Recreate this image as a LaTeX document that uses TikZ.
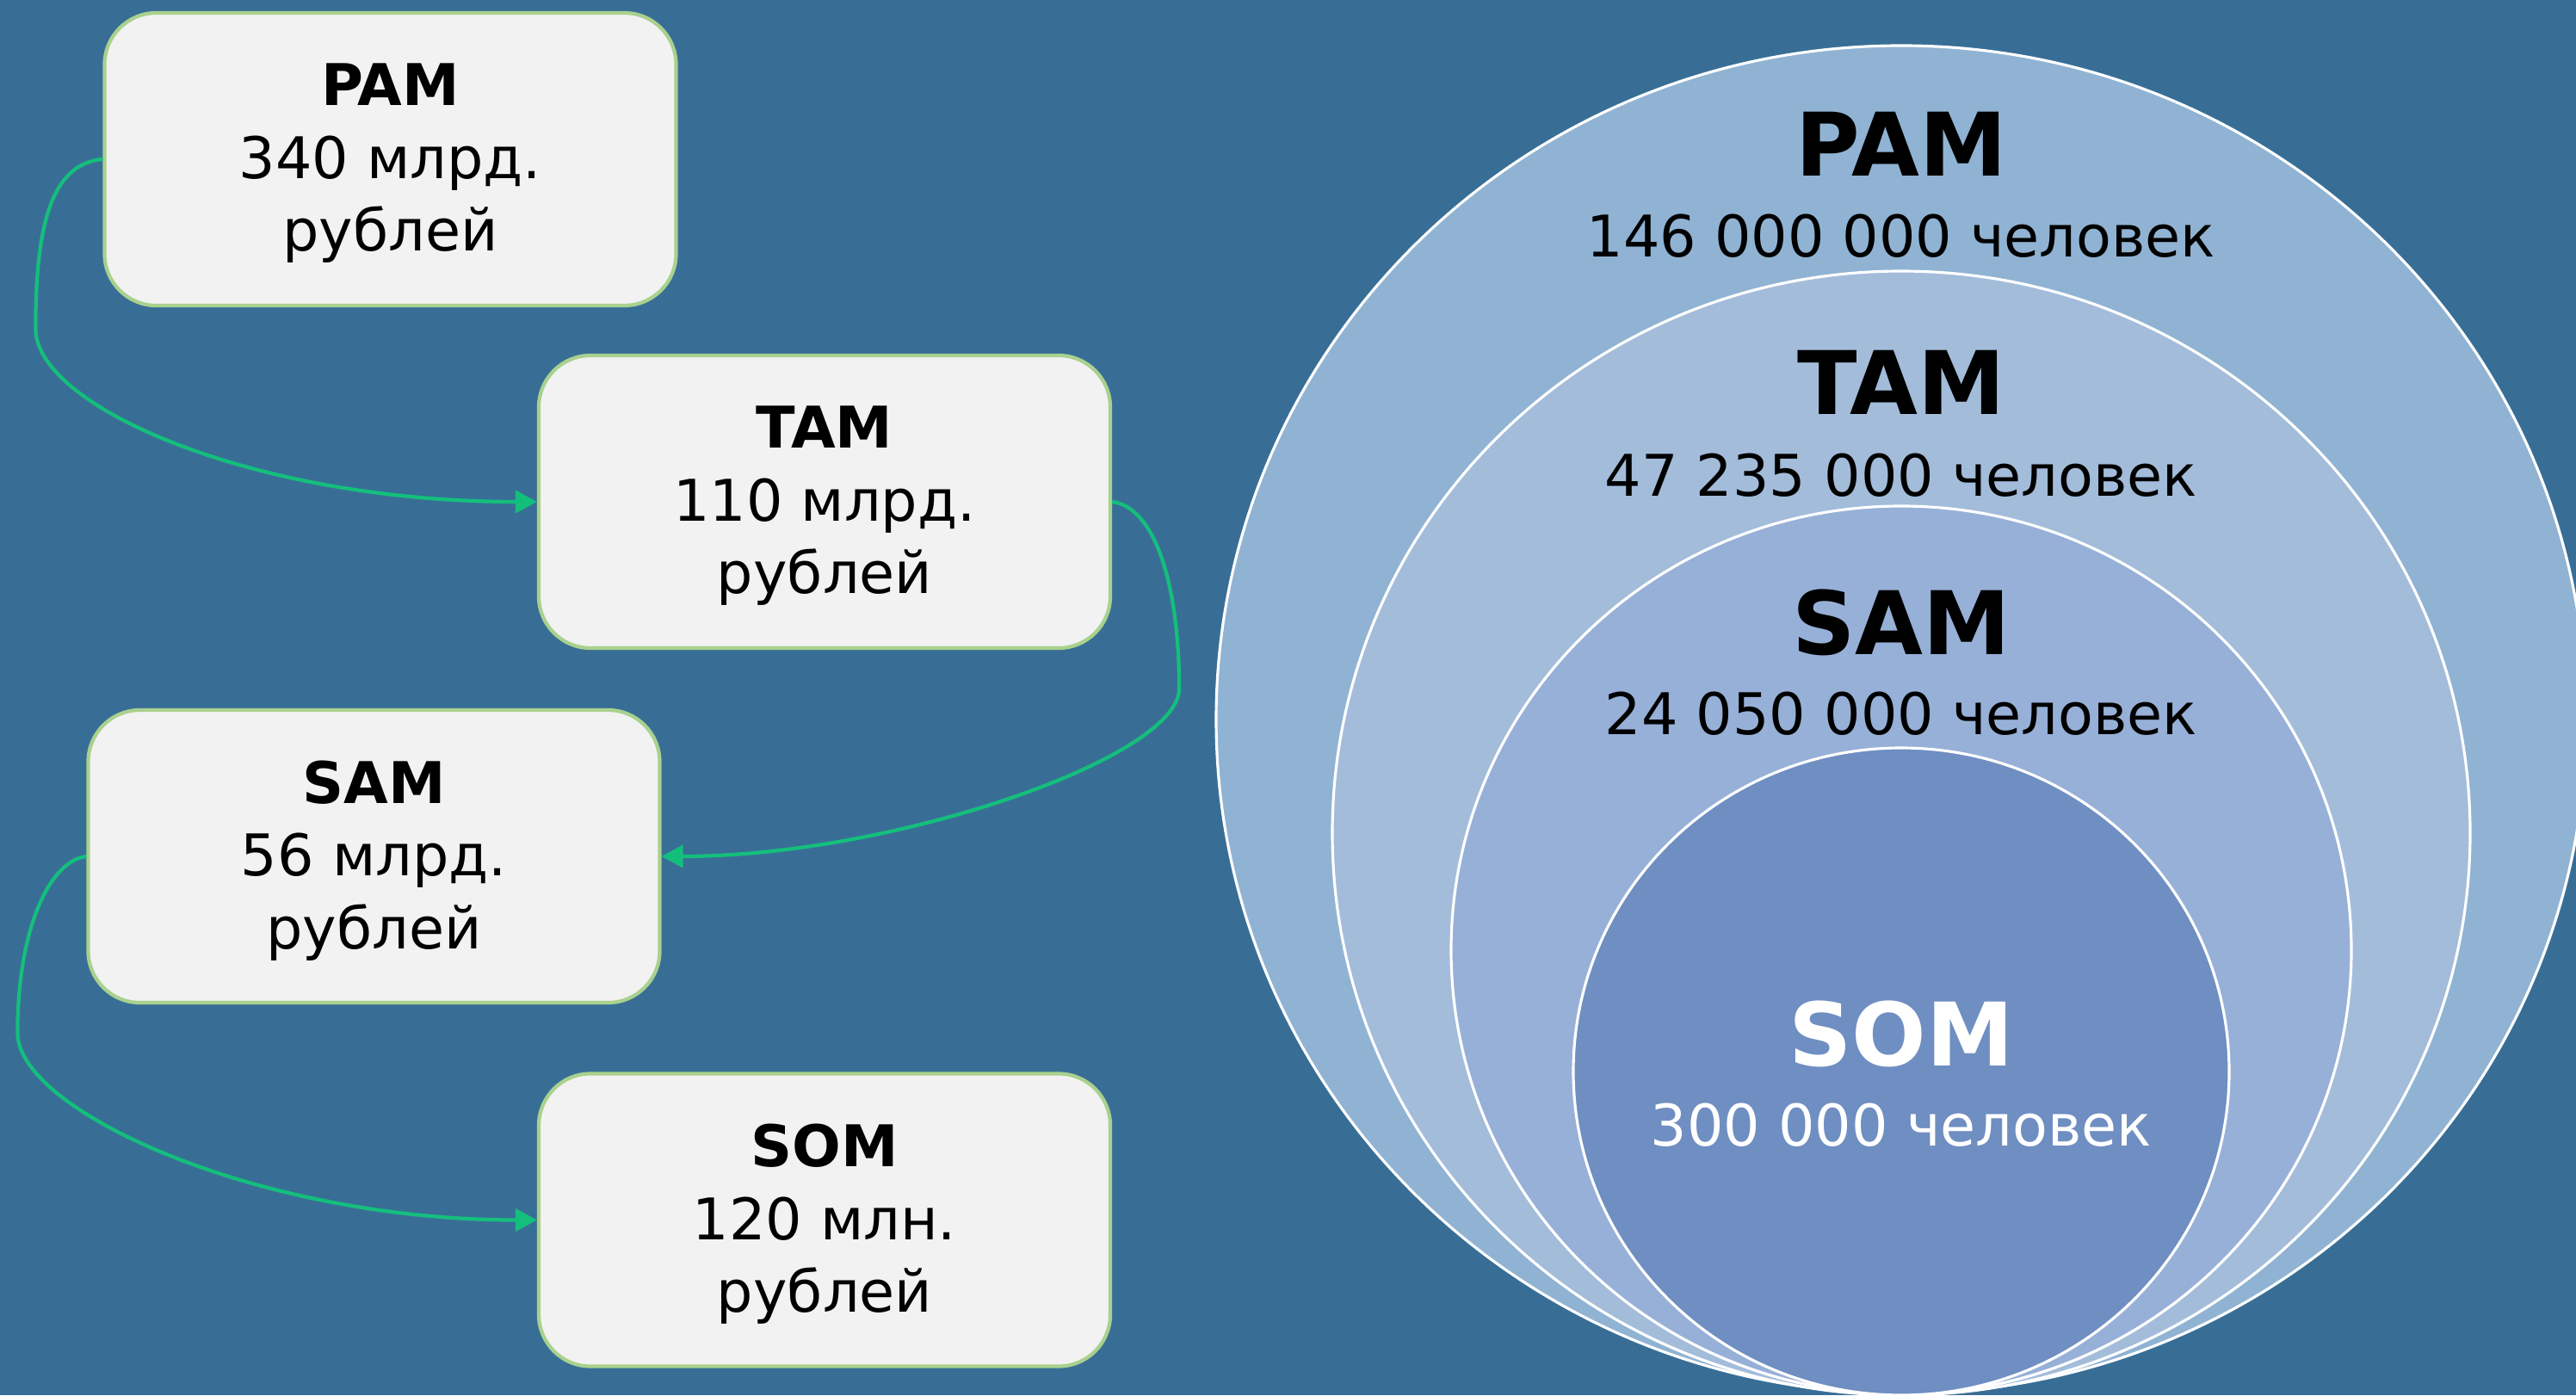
\documentclass[tikz,border=0pt]{standalone}
\usepackage{fontspec}
\setmainfont{DejaVu Sans}
\usetikzlibrary{arrows.meta, positioning}

\definecolor{bgblue}{HTML}{386E96}
\definecolor{pamfill}{HTML}{90B3D3}
\definecolor{tamfill}{HTML}{A3BCDA}
\definecolor{samfill}{HTML}{97B0D8}
\definecolor{somfill}{HTML}{6F8EC2}
\definecolor{boxfill}{HTML}{F2F2F2}
\definecolor{boxline}{HTML}{A9D18E}
\definecolor{flowgreen}{HTML}{14BF7C}

\begin{document}
\begin{tikzpicture}[mkbox/.style={
	draw=boxline,line width=1.2pt,fill=boxfill,rounded corners=0.6cm,text depth=0.04cm,
	minimum width=6.64cm,minimum height=3.4cm,align=center,font=\fontsize{19}{24}\selectfont
},
	flow/.style={draw=flowgreen,line width=1.2pt,-{Triangle[length=0.25cm,width=0.26cm]}},
	ring/.style={draw=white,line width=0.9pt},
	ringtitle/.style={anchor=base,font=\fontsize{29}{35}\selectfont\bfseries},
	popnum/.style={anchor=base,font=\fontsize{19}{23}\selectfont}]
	\fill[bgblue] (0,0) rectangle (29.93,16.21);
	\clip (0,0) rectangle (29.93,16.21);

	% nested markets
	\draw[ring,fill=pamfill] (22.09,7.85) ellipse [x radius=7.96, y radius=7.83];
	\draw[ring,fill=tamfill] (22.09,6.53) ellipse [x radius=6.61, y radius=6.53];
	\draw[ring,fill=samfill] (22.09,5.17) ellipse [x radius=5.23, y radius=5.16];
	\draw[ring,fill=somfill] (22.09,3.76) ellipse [x radius=3.81, y radius=3.76];

	\node[ringtitle] (pamt) at (22.09,14.16) {PAM};
	\node[popnum] (pamn) at (22.09,13.22) {146 000 000 человек};
	\node[ringtitle] (tamt) at (22.09,11.39) {TAM};
	\node[popnum] (tamn) at (22.09,10.45) {47 235 000 человек};
	\node[ringtitle] (samt) at (22.09,8.61) {SAM};
	\node[popnum] (samn) at (22.09,7.68) {24 050 000 человек};
	\node[ringtitle,white] (somt) at (22.09,3.83) {SOM};
	\node[popnum,white] (somn) at (22.09,2.90) {300 000 человек};

	% money boxes
	\node[mkbox] at (4.535,14.36) (pam) {\textbf{PAM}\\340 млрд.\\рублей};
	\node[mkbox] at (9.58,10.38) (tam) {\textbf{TAM}\\110 млрд.\\рублей};
	\node[mkbox] at (4.345,6.26) (sam) {\textbf{SAM}\\56 млрд.\\рублей};
	\node[mkbox] at (9.58,2.035) (som) {\textbf{SOM}\\120 млн.\\рублей};

	\draw[flow] (pam.west) .. controls +(-0.6,-0.05) and +(0,1.2) .. ++(-0.78,-1.97)
		.. controls +(0,-0.9) and +(-3.3,0) .. (tam.west);
	\draw[flow] (tam.east) .. controls +(0.5,-0.06) and +(0,1.2) .. ++(0.78,-2.17)
		.. controls +(0,-0.8) and +(2.7,0) .. (sam.east);
	\draw[flow] (sam.west) .. controls +(-0.43,-0.05) and +(0,1.2) .. ++(-0.8,-2.05)
		.. controls +(0,-0.9) and +(-3.26,0) .. (som.west);
\end{tikzpicture}
\end{document}
